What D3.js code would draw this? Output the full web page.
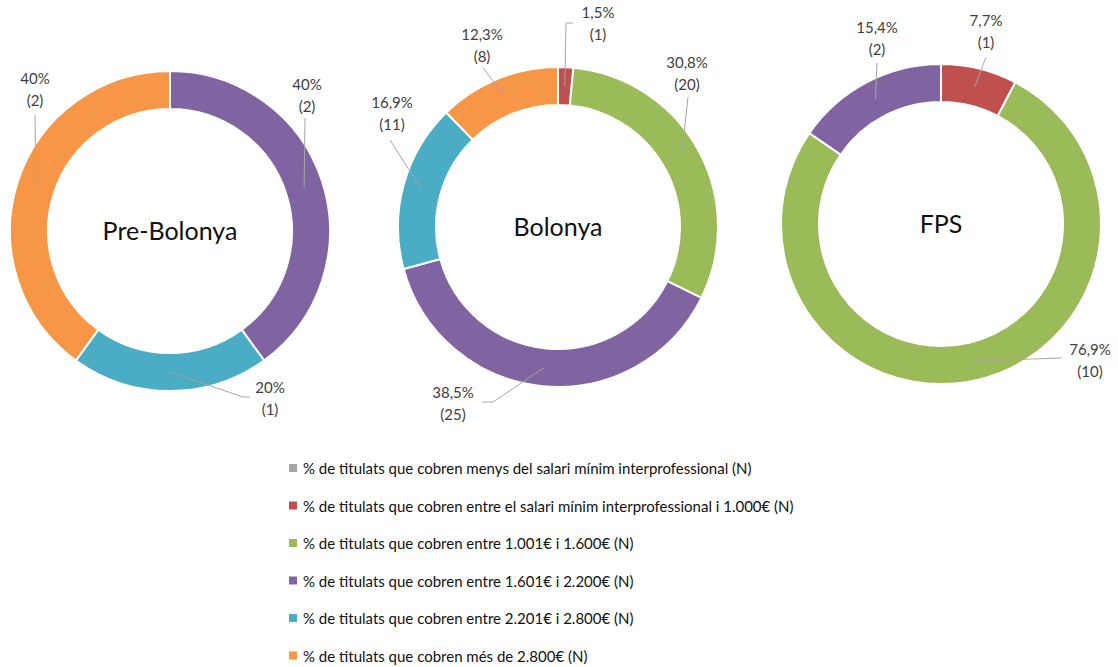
<!DOCTYPE html>
<html>
<head>
<meta charset="utf-8">
<script src="https://cdn.jsdelivr.net/npm/d3@7"></script>
<style>
  body { margin: 0; background: #fff; }
  text { font-family: Lato, "Open Sans", sans-serif; }
</style>
</head>
<body>
<div id="chart"></div>
<script>
// categories (legend order)
var categories = [
    "% de titulats que cobren menys del salari mínim interprofessional (N)",
    "% de titulats que cobren entre el salari mínim interprofessional i 1.000€ (N)",
    "% de titulats que cobren entre 1.001€ i 1.600€ (N)",
    "% de titulats que cobren entre 1.601€ i 2.200€ (N)",
    "% de titulats que cobren entre 2.201€ i 2.800€ (N)",
    "% de titulats que cobren més de 2.800€ (N)"
];
var colors = ["#A5A5A5", "#C0504D", "#9BBB59", "#8064A2", "#4BACC6", "#F79646"];

var groups = ["Pre-Bolonya", "Bolonya", "FPS"];
// N per category
var preBolonya = [0, 0, 0, 2, 1, 2];
var bolonya = [0, 1, 20, 25, 11, 8];
var fps = [0, 1, 10, 2, 0, 0];
var groupValues = [preBolonya, bolonya, fps];

var svgWidth = 1118;
var svgHeight = 667;

// donut placement
var centers = [[170, 231], [558, 227], [941, 224]];
var outerR = 160;
var innerR = 122;

// label placement relative to donut center: label center, then leader points
var labelLayout = [
    {3: {t: [137, -135], pts: [[135, -113]]},
     4: {t: [100, 168], pts: [[73, 166], [80, 166]]},
     5: {t: [-135, -141], pts: [[-135, -116]]}},
    {1: {t: [40, -203], pts: [[8, -204], [15, -204]]},
     2: {t: [129, -153], pts: [[130, -130]]},
     3: {t: [-105, 177], pts: [[-65, 175], [-76, 175]]},
     4: {t: [-166, -113], pts: [[-168, -87]]},
     5: {t: [-76, -181], pts: [[-75, -159]]}},
    {1: {t: [45, -192], pts: [[45, -167]]},
     2: {t: [149, 137], pts: [[121, 134]]},
     3: {t: [-64, -185], pts: [[-64, -161]]}}
];

var svg = d3.select("#chart")
    .append("svg")
        .attr("width", svgWidth)
        .attr("height", svgHeight);

var pie = d3.pie()
    .sort(null)
    .value(function (d) { return d; })
    .startAngle(0)
    .endAngle(2 * Math.PI);

var arc = d3.arc()
    .innerRadius(innerR)
    .outerRadius(outerR);

function fmtPct(v) {
    var s = d3.format(".1f")(v);
    if (s.slice(-2) === ".0") s = s.slice(0, -2);
    return s.replace(".", ",") + "%";
}

groupValues.forEach(function (vals, gi) {
    var total = d3.sum(vals);
    var c = centers[gi];
    var g = svg.append("g")
        .attr("transform", `translate(${c[0]}, ${c[1]})`);

    var slices = pie(vals).filter(function (d) { return d.value > 0; });

    g.selectAll("path")
        .data(slices)
        .enter()
        .append("path")
            .attr("d", arc)
            .attr("fill", function (d) { return colors[d.index]; })
            .attr("stroke", "#fff")
            .attr("stroke-width", 2);

    g.append("text")
        .attr("text-anchor", "middle")
        .attr("y", 9)
        .attr("font-size", 25)
        .attr("fill", "#111")
        .text(groups[gi]);

    slices.forEach(function (d) {
        var lay = labelLayout[gi][d.index];
        var pts = [arc.centroid(d)].concat(lay.pts);
        g.append("path")
            .attr("d", d3.line()(pts))
            .attr("fill", "none")
            .attr("stroke", "#A6A6A6")
            .attr("stroke-width", 1);

        var t = g.append("text")
            .attr("text-anchor", "middle")
            .attr("font-size", 15)
            .attr("fill", "#404040");
        t.append("tspan")
            .attr("x", lay.t[0])
            .attr("y", lay.t[1] - 6)
            .text(fmtPct(d.value / total * 100));
        t.append("tspan")
            .attr("x", lay.t[0])
            .attr("y", lay.t[1] + 16)
            .text("(" + d.value + ")");
    });
});

// legend
var legend = svg.append("g")
    .attr("transform", "translate(289, 468)");

var rowH = 37.5;
var item = legend.selectAll("g")
    .data(categories)
    .enter()
    .append("g")
        .attr("transform", function (d, i) { return `translate(0, ${i * rowH})`; });

item.append("rect")
    .attr("x", 0)
    .attr("y", -4)
    .attr("width", 8)
    .attr("height", 8)
    .attr("fill", function (d, i) { return colors[i]; });

item.append("text")
    .attr("x", 14)
    .attr("y", 6)
    .attr("font-size", 15)
    .attr("fill", "#111")
    .text(function (d) { return d; });
</script>
</body>
</html>
